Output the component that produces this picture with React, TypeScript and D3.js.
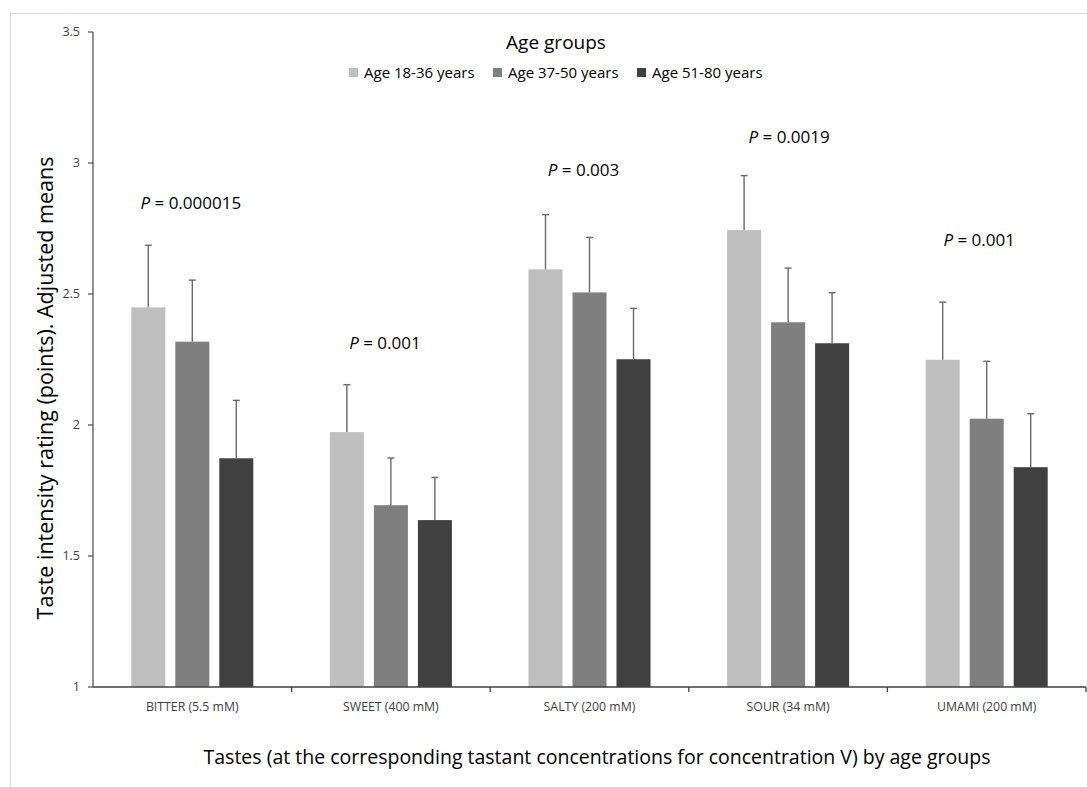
import React from "react";
import * as d3 from "d3";

const categories = ["BITTER (5.5 mM)", "SWEET (400 mM)", "SALTY (200 mM)", "SOUR (34 mM)", "UMAMI (200 mM)"];
const seriesNames = ["Age 18-36 years", "Age 37-50 years", "Age 51-80 years"];
const colors = ["#bfbfbf", "#7f7f7f", "#404040"];
const age18_36 = [2.449, 1.973, 2.594, 2.744, 2.249];
const age37_50 = [2.318, 1.694, 2.506, 2.392, 2.024];
const age51_80 = [1.873, 1.637, 2.251, 2.312, 1.839];
const err18_36 = [0.237, 0.181, 0.209, 0.208, 0.22];
const err37_50 = [0.235, 0.18, 0.21, 0.207, 0.219];
const err51_80 = [0.221, 0.163, 0.194, 0.193, 0.204];
const pLabels = ["0.000015", "0.001", "0.003", "0.0019", "0.001"];
const pLabelY = [2.826, 2.29, 2.95, 3.076, 2.683];
const pLabelDx = [-1.5, -6, -6, 1, -7.5];
const yTicks = [1, 1.5, 2, 2.5, 3, 3.5];

const W = 1087;
const H = 787;
const FONT = "'Open Sans', 'Noto Sans', sans-serif";

export default function App() {
  const values = [age18_36, age37_50, age51_80];
  const errs = [err18_36, err37_50, err51_80];
  const x = d3.scaleBand<string>().domain(categories).range([93, 1086]).paddingInner(0).paddingOuter(0);
  const xs = d3.scaleBand<string>().domain(seriesNames).range([0, x.bandwidth()]).paddingInner(0.227).paddingOuter(0.87);
  const y = d3.scaleLinear().domain([1, 3.5]).range([687, 32]);
  const bw = xs.bandwidth();
  const axisColor = "#595959";

  return (
    <svg width={W} height={H} style={{ position: "absolute", left: 0, top: 0, background: "#fff" }} fontFamily={FONT}>
      <rect x={10.5} y={13.5} width={1100} height={800} fill="#fff" stroke="#d9d9d9" strokeWidth={1} />
      {/* bars */}
      {values.map((vals, si) =>
        vals.map((v, ci) => {
          const bx = (x(categories[ci]) as number) + (xs(seriesNames[si]) as number);
          return (
            <rect key={`b${si}-${ci}`} x={bx} y={y(v)} width={bw} height={y(1) - y(v)} fill={colors[si]} />
          );
        })
      )}
      {/* error bars */}
      {values.map((vals, si) =>
        vals.map((v, ci) => {
          const cx = (x(categories[ci]) as number) + (xs(seriesNames[si]) as number) + bw / 2;
          const top = y(v + errs[si][ci]);
          return (
            <g key={`e${si}-${ci}`} stroke="#6a6a6a" strokeWidth={1.4}>
              <line x1={cx} x2={cx} y1={y(v)} y2={top} />
              <line x1={cx - 3.5} x2={cx + 3.5} y1={top} y2={top} />
            </g>
          );
        })
      )}
      {/* y axis */}
      <line x1={93} x2={93} y1={y(3.5)} y2={y(1)} stroke={axisColor} strokeWidth={1.3} />
      {yTicks.map((t) => (
        <g key={`yt${t}`}>
          <line x1={88} x2={93} y1={y(t)} y2={y(t)} stroke={axisColor} strokeWidth={1.3} />
          <text x={80} y={y(t)} dy="0.35em" textAnchor="end" fontSize={12.5} fill="#404040">
            {t}
          </text>
        </g>
      ))}
      {/* x axis */}
      <line x1={93} x2={1086} y1={y(1)} y2={y(1)} stroke="#404040" strokeWidth={1.3} />
      {categories.map((c, i) => (
        <line key={`xt${i}`} x1={(x(c) as number) + x.bandwidth()} x2={(x(c) as number) + x.bandwidth()} y1={y(1)} y2={y(1) + 5} stroke="#404040" strokeWidth={1.3} />
      ))}
      {categories.map((c) => (
        <text key={`xl${c}`} x={(x(c) as number) + x.bandwidth() / 2} y={711} textAnchor="middle" fontSize={12.3} fill="#404040">
          {c}
        </text>
      ))}
      {/* p labels */}
      {categories.map((c, i) => (
        <text key={`p${i}`} x={(x(c) as number) + x.bandwidth() / 2 + pLabelDx[i]} y={y(pLabelY[i])} textAnchor="middle" fontSize={17} fill="#000">
          <tspan fontStyle="italic">P</tspan>
          <tspan> = {pLabels[i]}</tspan>
        </text>
      ))}
      {/* legend */}
      <text x={556} y={49} textAnchor="middle" fontSize={19} fill="#000">Age groups</text>
      {seriesNames.map((s, i) => {
        const lx = [349, 493, 637][i];
        return (
          <g key={`lg${i}`}>
            <rect x={lx} y={68} width={9} height={9} fill={colors[i]} />
            <text x={lx + 15} y={72.5} dy="0.35em" fontSize={15} fill="#000">{s}</text>
          </g>
        );
      })}
      {/* axis titles */}
      <text transform={`translate(53,388) rotate(-90)`} textAnchor="middle" fontSize={21.5} fill="#000">
        Taste intensity rating (points). Adjusted means
      </text>
      <text x={597} y={764} textAnchor="middle" fontSize={19.5} fill="#000">
        Tastes (at the corresponding tastant concentrations for concentration V) by age groups
      </text>
    </svg>
  );
}
